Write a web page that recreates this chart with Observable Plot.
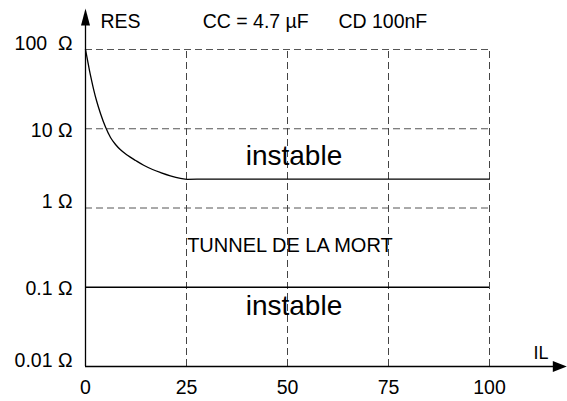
<!DOCTYPE html>
<html><head><meta charset="utf-8">
<script src="https://cdn.jsdelivr.net/npm/d3@7"></script>
<script src="https://cdn.jsdelivr.net/npm/@observablehq/plot@0.6"></script>
<style>body{margin:0;background:#fff}</style>
</head><body><div id="chart"></div>
<script>
// Curve: resistance vs load current
const curveIL  = [0, 0.5, 0.99, 1.49, 2.05, 2.72, 3.71, 4.95, 6.19, 7.43, 8.66, 10.3, 12.4, 14.4, 16.6, 18.6, 21.0, 23.5, 25.2, 30, 100];
const curveRES = [100, 73.7, 54.3, 41.2, 30.8, 22.7, 15.6, 10.5, 7.76, 6.33, 5.43, 4.66, 3.98, 3.46, 3.06, 2.8, 2.55, 2.37, 2.3, 2.32, 2.32];
const lowerLimitRES = [0.1];
const xTicks = [0, 25, 50, 75, 100];
const yTicks = [100, 10, 1, 0.1, 0.01];
const yTickLabels = ["100  Ω", "10 Ω", "1 Ω", "0.1 Ω", "0.01 Ω"];
const gridRES = [1, 10, 100];
const gridIL = [25, 50, 75, 100];
const regionLabels = ["instable", "TUNNEL DE LA MORT", "instable"];
const regionIL = [51.6, 50.6, 51.6];
const regionRES = [4.5, 0.34, 0.058];
const headerLabels = ["RES", "CC = 4.7 µF", "CD 100nF"];
const headerIL = [3.7, 29, 62.6];
const headerRES = 222;
const xAxisEnd = 117.4, yAxisEnd = 257;

const curve = curveIL.map((x, i) => ({x, y: curveRES[i]}));
const yLab = yTicks.map((v, i) => ({v, label: yTickLabels[i], i}));
const regions = regionLabels.map((t, i) => ({t, x: regionIL[i], y: regionRES[i]}));
const headers = headerLabels.map((t, i) => ({t, x: headerIL[i], y: headerRES}));

const headY = {draw(ctx) { ctx.moveTo(0, -8.5); ctx.lineTo(4.5, 8.5); ctx.lineTo(-4.5, 8.5); ctx.closePath(); }};
const headX = {draw(ctx) { ctx.moveTo(0, -7); ctx.lineTo(5.5, 7); ctx.lineTo(-5.5, 7); ctx.closePath(); }};

const font = "Liberation Sans, Arial, Helvetica, sans-serif";
const fs = 19.5;
const chart = Plot.plot({
  width: 567, height: 401,
  marginLeft: 85, marginRight: 78, marginTop: 49, marginBottom: 35,
  x: {domain: [0, 100], axis: null},
  y: {type: "log", domain: [0.01, 100], axis: null},
  style: {fontFamily: font, fontSize: fs + "px", background: "#fff", color: "#000"},
  marks: [
    Plot.ruleY(gridRES, {x1: 0, x2: 100, stroke: "#555", strokeDasharray: "7,4", strokeWidth: 1}),
    Plot.ruleX(gridIL, {y1: 0.01, y2: 100, stroke: "#444", strokeDasharray: "7,4", strokeWidth: 1}),
    Plot.ruleY(lowerLimitRES, {x1: 0, x2: 100, stroke: "#000", strokeWidth: 1.3}),
    Plot.line(curve, {x: "x", y: "y", curve: "monotone-x", stroke: "#000", strokeWidth: 1.3}),
    Plot.ruleX([0], {y1: 0.01, y2: yAxisEnd, stroke: "#000", strokeWidth: 1.3}),
    Plot.ruleY([0.01], {x1: 0, x2: xAxisEnd, stroke: "#000", strokeWidth: 1.3}),
    Plot.dot([0], {x: 0, y: yAxisEnd, symbol: headY, fill: "#000", stroke: null}),
    Plot.dot([0], {x: xAxisEnd, y: 0.01, symbol: headX, fill: "#000", stroke: null, rotate: 90}),
    Plot.text(yLab.filter(d => d.i % 2 === 0), {x: 0, y: "v", text: "label", textAnchor: "end", dx: -13, dy: -6, fontSize: fs}),
    Plot.text(yLab.filter(d => d.i % 2 === 1), {x: 0, y: "v", text: "label", textAnchor: "end", dx: -13, dy: 1.5, fontSize: fs}),
    Plot.text(xTicks, {x: d => d, y: 0.01, text: d => String(d), dy: 21, fontSize: fs}),
    Plot.text(regions.filter(d => d.t === "instable"), {x: "x", y: "y", text: "t", fontSize: 28}),
    Plot.text(regions.filter(d => d.t !== "instable"), {x: "x", y: "y", text: "t", fontSize: 20}),
    Plot.text(headers, {x: "x", y: "y", text: "t", textAnchor: "start", fontSize: fs}),
    Plot.text(["IL"], {x: 110.9, y: 0.0147, text: d => d, textAnchor: "start", fontSize: 18})
  ]
});
document.getElementById("chart").appendChild(chart);
</script>
</body></html>
